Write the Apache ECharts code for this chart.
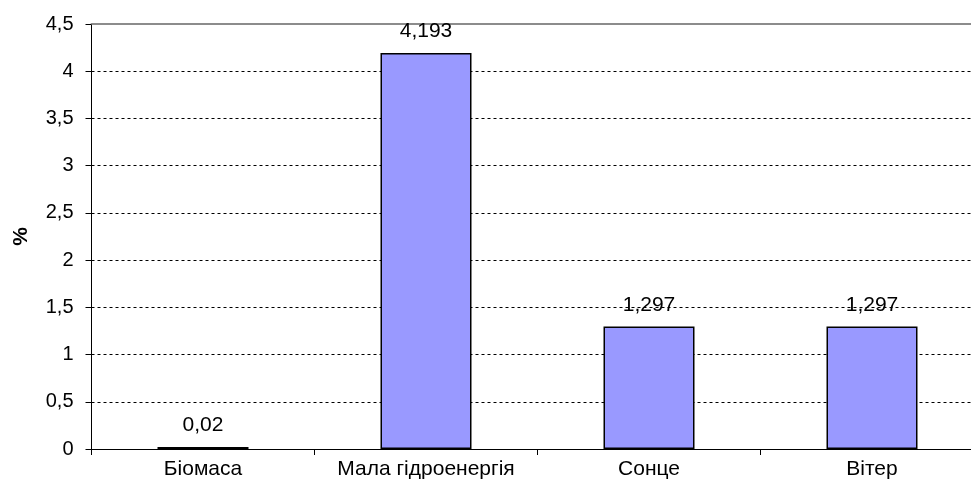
<!DOCTYPE html>
<html>
<head>
<meta charset="utf-8">
<script src="https://cdn.jsdelivr.net/npm/echarts@6/dist/echarts.min.js"></script>
<style>
  html, body { margin: 0; padding: 0; background: #fff; }
  #chart { width: 971px; height: 493px; }
</style>
</head>
<body>
<div id="chart"></div>
<script>
// Частка відновлюваних джерел енергії, %
const categories = ['Біомаса', 'Мала гідроенергія', 'Сонце', 'Вітер'];
const values = [0.02, 4.193, 1.297, 1.297];
const yTicks = [0, 0.5, 1, 1.5, 2, 2.5, 3, 3.5, 4, 4.5];

const fmt = v => String(v).replace('.', ',');
const font = 'Liberation Sans, Arial, sans-serif';

const chart = echarts.init(document.getElementById('chart'));
chart.setOption({
  backgroundColor: '#fff',
  animation: false,
  grid: {
    left: 91.5, top: 24, width: 892, height: 425,
    containLabel: false, outerBoundsMode: 'none'
  },
  xAxis: [{
    type: 'category',
    data: categories,
    axisLine: { lineStyle: { color: '#000', width: 1 } },
    axisTick: { show: true, interval: 0, length: 6, lineStyle: { color: '#000' } },
    axisLabel: { interval: 0, hideOverlap: false, color: '#000', fontFamily: font, fontSize: 21, margin: 10 },
    splitLine: { show: false }
  }, {
    type: 'category',
    position: 'top',
    data: categories,
    axisLine: { lineStyle: { color: '#8c8c8c', width: 2 } },
    axisTick: { show: false },
    axisLabel: { show: false }
  }],
  yAxis: {
    type: 'value',
    min: yTicks[0],
    max: yTicks[yTicks.length - 1],
    interval: 0.5,
    name: '%',
    nameLocation: 'middle',
    nameGap: 60,
    nameRotate: 90,
    nameTextStyle: { color: '#000', fontFamily: font, fontSize: 21, fontWeight: 'bold' },
    axisLine: { show: true, lineStyle: { color: '#000', width: 1 } },
    axisTick: { show: true, length: 6, lineStyle: { color: '#000' } },
    axisLabel: {
      color: '#000', fontFamily: font, fontSize: 20, margin: 18,
      formatter: v => fmt(v),
      showMaxLabel: true
    },
    splitLine: {
      show: true,
      lineStyle: { color: '#000', width: 1, type: [3, 3] }
    }
  },
  series: [{
    type: 'bar',
    xAxisIndex: 0,
    data: values,
    barWidth: 91,
    itemStyle: { color: '#9999FF', borderColor: '#000', borderWidth: 1.5 },
    label: {
      show: true,
      position: 'top',
      distance: 11,
      color: '#000',
      fontFamily: font,
      fontSize: 21,
      formatter: p => fmt(p.value)
    }
  }]
});
</script>
</body>
</html>
